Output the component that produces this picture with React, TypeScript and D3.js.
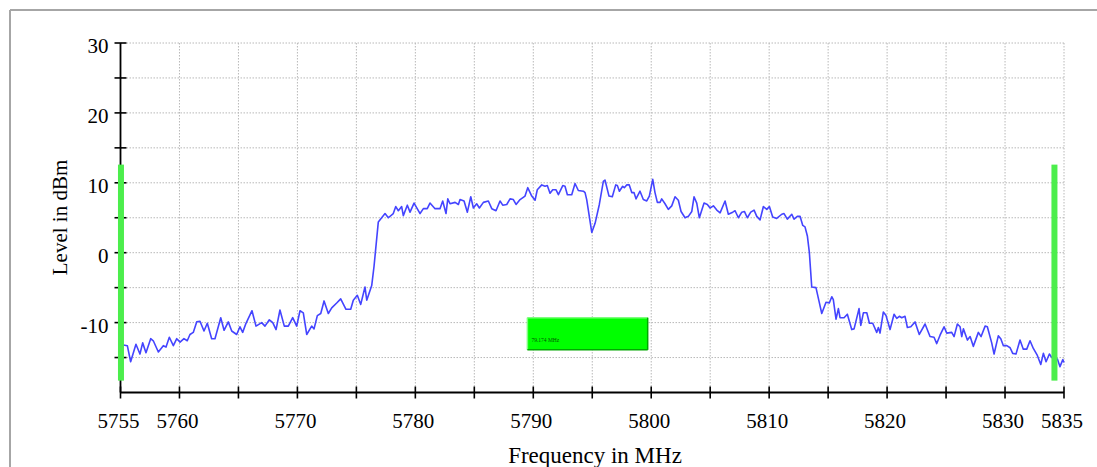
import React from "react";
import * as d3 from "d3";

const freqMHz = [
  5755.0, 5755.24, 5755.58, 5755.86, 5756.31, 5756.65, 5756.88, 5757.16, 5757.56, 5757.78,
  5758.21, 5758.63, 5758.86, 5759.14, 5759.48, 5759.77, 5760.05, 5760.38, 5760.66, 5760.89,
  5761.17, 5761.46, 5761.74, 5762.08, 5762.36, 5762.73, 5763.01, 5763.5, 5763.78, 5764.14,
  5764.43, 5764.85, 5765.13, 5765.36, 5765.64, 5766.15, 5766.49, 5766.97, 5767.25, 5767.62,
  5767.91, 5768.19, 5768.52, 5768.89, 5769.23, 5769.6, 5769.94, 5770.22, 5770.5, 5770.79,
  5771.21, 5771.41, 5771.69, 5771.98, 5772.26, 5772.62, 5772.91, 5773.33, 5773.67, 5774.12,
  5774.52, 5774.74, 5775.08, 5775.37, 5775.73, 5775.88, 5776.3, 5776.5, 5776.86, 5777.43,
  5777.71, 5778.13, 5778.34, 5778.56, 5778.84, 5778.98, 5779.32, 5779.55, 5779.89, 5780.4,
  5780.68, 5781.01, 5781.24, 5781.67, 5782.09, 5782.32, 5782.6, 5782.75, 5782.94, 5783.37,
  5783.65, 5783.79, 5784.13, 5784.41, 5784.7, 5784.92, 5785.2, 5785.43, 5785.77, 5786.19,
  5786.48, 5786.84, 5787.18, 5787.41, 5787.75, 5788.03, 5788.31, 5788.54, 5788.88, 5789.3,
  5789.53, 5789.87, 5790.15, 5790.34, 5790.72, 5791.0, 5791.19, 5791.42, 5791.65, 5791.93,
  5792.13, 5792.5, 5792.69, 5792.89, 5793.26, 5793.54, 5793.82, 5794.25, 5794.39, 5794.53,
  5794.96, 5795.24, 5795.6, 5795.94, 5796.08, 5796.42, 5796.7, 5796.99, 5797.13, 5797.3,
  5797.58, 5797.72, 5797.92, 5798.14, 5798.35, 5798.54, 5798.71, 5799.05, 5799.33, 5799.62,
  5799.84, 5800.13, 5800.32, 5800.52, 5800.75, 5800.89, 5801.17, 5801.45, 5801.74, 5802.02,
  5802.3, 5802.53, 5802.87, 5803.15, 5803.44, 5803.63, 5803.86, 5804.08, 5804.48, 5804.76,
  5804.99, 5805.27, 5805.56, 5805.84, 5806.26, 5806.54, 5806.91, 5807.11, 5807.39, 5807.68,
  5807.9, 5808.15, 5808.44, 5808.72, 5808.95, 5809.23, 5809.51, 5809.8, 5810.02, 5810.3,
  5810.64, 5811.07, 5811.26, 5811.54, 5811.92, 5812.11, 5812.39, 5812.62, 5812.85, 5813.04,
  5813.24, 5813.41, 5813.61, 5813.97, 5814.25, 5814.46, 5814.82, 5815.1, 5815.31, 5815.44,
  5815.67, 5815.87, 5816.01, 5816.35, 5816.63, 5817.0, 5817.2, 5817.62, 5817.77, 5817.99,
  5818.28, 5818.5, 5818.78, 5819.12, 5819.26, 5819.4, 5819.68, 5819.91, 5820.25, 5820.59,
  5820.82, 5821.04, 5821.24, 5821.52, 5821.72, 5822.01, 5822.37, 5822.73, 5823.22, 5823.64,
  5823.98, 5824.21, 5824.49, 5824.83, 5825.06, 5825.48, 5825.68, 5825.96, 5826.19, 5826.33,
  5826.47, 5826.81, 5827.04, 5827.31, 5827.74, 5827.97, 5828.31, 5828.5, 5828.87, 5829.07,
  5829.43, 5829.64, 5829.86, 5830.15, 5830.43, 5830.65, 5830.93, 5831.27, 5831.55, 5831.84,
  5832.12, 5832.4, 5832.74, 5833.03, 5833.25, 5833.48, 5833.76, 5833.96, 5834.44, 5834.66,
  5834.9, 5835.0,
];

const levelDbm = [
  -13.2, -13.2, -13.3, -15.6, -13.1, -14.5, -12.9, -14.3, -12.3, -12.6,
  -14.2, -13.3, -13.5, -12.1, -13.3, -12.3, -12.8, -12.3, -12.6, -11.7,
  -11.4, -9.9, -9.8, -11.2, -10.1, -12.3, -12.3, -9.3, -11.1, -9.9,
  -11.2, -11.7, -10.6, -11.4, -10.1, -8.3, -10.5, -10.0, -10.5, -9.6,
  -10.0, -11.0, -8.2, -10.5, -10.5, -9.3, -10.5, -8.3, -8.6, -11.7,
  -10.5, -10.9, -9.0, -8.7, -6.9, -8.7, -7.9, -7.2, -6.6, -8.1,
  -8.1, -6.8, -6.1, -7.4, -4.9, -6.8, -4.7, -1.9, 4.4, 5.6,
  5.0, 5.6, 6.6, 6.0, 6.6, 5.3, 6.8, 5.8, 7.1, 5.6,
  6.3, 6.3, 7.1, 6.3, 6.3, 7.4, 5.6, 7.7, 7.0, 7.2,
  6.9, 7.6, 7.4, 5.8, 8.0, 6.4, 7.0, 6.4, 7.2, 7.4,
  6.3, 6.0, 7.4, 6.8, 6.9, 7.7, 7.6, 6.9, 7.6, 8.1,
  9.3, 8.1, 7.5, 9.0, 9.7, 9.5, 9.6, 8.5, 9.0, 9.0,
  8.3, 9.6, 9.5, 8.3, 8.3, 9.9, 8.9, 8.8, 8.6, 7.6,
  2.9, 4.2, 6.9, 10.2, 10.4, 8.1, 8.0, 9.7, 9.6, 8.8,
  9.5, 9.3, 9.7, 9.7, 8.6, 8.6, 7.7, 8.8, 7.6, 7.4,
  8.1, 10.5, 8.6, 7.2, 7.2, 7.7, 7.0, 6.2, 6.7, 8.0,
  7.5, 5.9, 5.0, 5.2, 5.9, 8.0, 7.1, 5.0, 7.1, 6.9,
  6.4, 6.7, 6.1, 5.7, 7.4, 5.5, 5.8, 6.0, 5.0, 5.8,
  5.9, 5.0, 5.8, 6.1, 5.2, 4.7, 6.6, 6.2, 6.6, 5.1,
  4.9, 5.5, 5.6, 4.8, 5.5, 4.8, 5.2, 5.2, 3.9, 3.7,
  2.4, 0.0, -4.9, -5.0, -7.1, -8.7, -7.1, -7.2, -6.3, -6.7,
  -9.5, -8.0, -9.3, -9.3, -8.8, -11.0, -10.9, -8.0, -10.4, -8.6,
  -8.6, -10.1, -10.1, -11.4, -10.7, -11.5, -8.5, -9.0, -11.0, -8.8,
  -9.4, -9.1, -9.3, -9.1, -10.7, -10.6, -9.9, -11.7, -10.2, -12.0,
  -12.1, -13.0, -11.8, -10.6, -11.5, -11.4, -12.0, -10.2, -10.6, -12.0,
  -10.9, -12.5, -12.0, -13.4, -11.4, -12.0, -10.5, -10.6, -12.9, -14.5,
  -11.9, -12.3, -13.3, -13.3, -13.6, -14.4, -14.5, -12.5, -13.8, -13.8,
  -12.6, -13.7, -14.7, -16.0, -14.4, -15.6, -14.5, -15.0, -15.2, -16.3,
  -15.3, -15.7,
];

const xTicks = d3.range(5755, 5836, 5);
const xTickLabels = [5755, 5760, 5770, 5780, 5790, 5800, 5810, 5820, 5830, 5835];
const yTicks = d3.range(-15, 31, 5);
const yTickLabels = [-10, 0, 10, 20, 30];

const markerFreqs = [5755.04, 5834.19];
const markerLevels = [12.6, -18.3];
const bandwidthLabel = "79.174 MHz";

const W = 1097;
const H = 467;
const FONT = "'Liberation Serif', 'Times New Roman', serif";

export default function App() {
  const x = d3.scaleLinear().domain([5755, 5835]).range([120.5, 1064]);
  const y = d3.scaleLinear().domain([-20, 30]).range([392.5, 43]);

  const pts = freqMHz.map((f, i) => [f, levelDbm[i]] as [number, number]);
  const line = d3
    .line<[number, number]>()
    .x((d) => x(d[0]))
    .y((d) => y(d[1]));

  const x0 = x(5755);
  const x1 = x(5835);
  const yTop = y(30);
  const yBot = y(-20);

  const boxX0 = x(5789.5);
  const boxX1 = x(5799.7);
  const boxY0 = y(-9.3);
  const boxY1 = y(-13.9);

  return (
    <svg
      width={W}
      height={H}
      style={{ position: "absolute", left: 0, top: 0, background: "#fff" }}
      fontFamily={FONT}
    >
      {/* frame */}
      <line x1={10} y1={10} x2={W} y2={10} stroke="#a6a6a6" strokeWidth={2} />
      <line x1={10} y1={10} x2={10} y2={H} stroke="#a6a6a6" strokeWidth={2} />

      {/* grid */}
      {xTicks
        .filter((t) => t !== 5755)
        .map((t) => (
          <line
            key={"gx" + t}
            x1={x(t)}
            x2={x(t)}
            y1={yTop}
            y2={yBot}
            stroke="#b8b8b8"
            strokeWidth={1}
            strokeDasharray="1.5 1.5"
          />
        ))}
      {yTicks.map((t) => (
        <line
          key={"gy" + t}
          x1={x0}
          x2={x1}
          y1={y(t)}
          y2={y(t)}
          stroke="#b8b8b8"
          strokeWidth={1}
          strokeDasharray="1.5 1.5"
        />
      ))}

      {/* trace */}
      <path d={line(pts) || ""} fill="none" stroke="#4444ff" strokeWidth={1.6} strokeLinejoin="round" />

      {/* axes */}
      <line x1={x0} x2={x0} y1={yTop} y2={yBot} stroke="#000" strokeWidth={1.8} />
      <line x1={x0} x2={x1} y1={yBot} y2={yBot} stroke="#000" strokeWidth={1.8} />
      {yTicks.map((t) => (
        <line key={"yt" + t} x1={x0 - 6} x2={x0 + 6} y1={y(t)} y2={y(t)} stroke="#000" strokeWidth={1.6} />
      ))}
      {xTicks.map((t) => (
        <line key={"xt" + t} x1={x(t)} x2={x(t)} y1={yBot - 6} y2={yBot + 6} stroke="#000" strokeWidth={1.6} />
      ))}
      {yTickLabels.map((t) => (
        <text key={"yl" + t} x={x0 - 12} y={y(t) + 10} textAnchor="end" fontSize={21} fill="#000">
          {t}
        </text>
      ))}
      {xTickLabels.map((t) => (
        <text key={"xl" + t} x={x(t) - 2} y={428} textAnchor="middle" fontSize={21} fill="#000">
          {t}
        </text>
      ))}

      <text x={595} y={463} textAnchor="middle" fontSize={23} fill="#000">
        Frequency in MHz
      </text>
      <text
        transform={`translate(67,217.5) rotate(-90)`}
        textAnchor="middle"
        fontSize={21}
        fill="#000"
      >
        Level in dBm
      </text>

      {/* markers */}
      {markerFreqs.map((f, i) => (
        <rect
          key={"m" + i}
          x={x(f) - 3}
          y={y(markerLevels[0])}
          width={6}
          height={y(markerLevels[1]) - y(markerLevels[0])}
          fill="#4cee4c"
        />
      ))}

      {/* bandwidth box */}
      <rect x={boxX0} y={boxY0} width={boxX1 - boxX0} height={boxY1 - boxY0} fill="#00ff00" />
      <line x1={boxX0} y1={boxY0} x2={boxX1} y2={boxY0} stroke="#7dff7d" strokeWidth={1.5} />
      <line x1={boxX0} y1={boxY0} x2={boxX0} y2={boxY1} stroke="#7dff7d" strokeWidth={1.5} />
      <line x1={boxX0} y1={boxY1} x2={boxX1} y2={boxY1} stroke="#00a800" strokeWidth={1.5} />
      <line x1={boxX1} y1={boxY0} x2={boxX1} y2={boxY1} stroke="#00a800" strokeWidth={1.5} />
      <text x={boxX0 + 4} y={boxY1 - 8} fontSize={5.5} fill="#005500">
        {bandwidthLabel}
      </text>
    </svg>
  );
}
